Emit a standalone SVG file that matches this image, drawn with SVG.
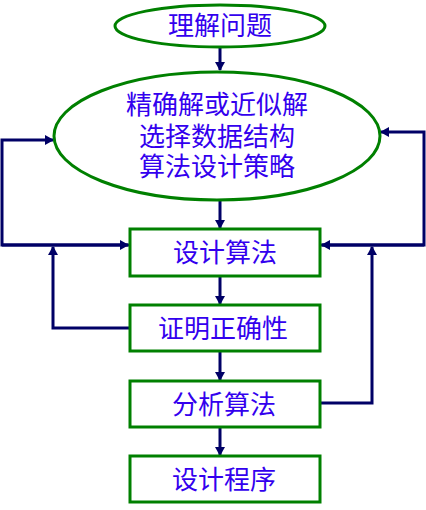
<svg xmlns="http://www.w3.org/2000/svg" width="426" height="510" viewBox="0 0 426 510">
<style>
.n{fill:#fff;stroke:#008000;stroke-width:3}
.t{font-family:"Noto Sans CJK SC",sans-serif;font-size:26px;fill:#3300ee;text-anchor:middle}
.c{fill:none;stroke:#000066;stroke-width:3}
</style>
<defs>
<marker id="a" markerWidth="10" markerHeight="10" refX="8" refY="5" orient="auto" markerUnits="userSpaceOnUse">
<path d="M0,0 L9,5 L0,10 Z" fill="#000066"/>
</marker>
</defs>
<rect width="426" height="510" fill="#fff"/>
<g id="connectors">
<path class="c" d="M220,48 V70" marker-end="url(#a)"/>
<path class="c" d="M220,201 V228" marker-end="url(#a)"/>
<path class="c" d="M220,277 V304" marker-end="url(#a)"/>
<path class="c" d="M220,352 V380" marker-end="url(#a)"/>
<path class="c" d="M220,428 V455" marker-end="url(#a)"/>
<path class="c" d="M130,245 H2 V140 H53" marker-end="url(#a)"/>
<path class="c" d="M2,245 H128" marker-end="url(#a)"/>
<path class="c" d="M130,328 H53 V247" marker-end="url(#a)"/>
<path class="c" d="M320,245 H424 V132 H381" marker-end="url(#a)"/>
<path class="c" d="M424,245 H322" marker-end="url(#a)"/>
<path class="c" d="M320,403 H372 V247" marker-end="url(#a)"/>
</g>
<g id="n1"><ellipse class="n" cx="220" cy="26" rx="105" ry="21"/><text class="t" x="220" y="35">理解问题</text></g>
<g id="n2"><ellipse class="n" cx="217" cy="136" rx="163" ry="64"/>
<text class="t" x="217" y="114">精确解或近似解</text>
<text class="t" x="217" y="146">选择数据结构</text>
<text class="t" x="217" y="176">算法设计策略</text></g>
<g id="n3"><rect class="n" x="130" y="229" width="190" height="47"/><text class="t" x="225" y="262">设计算法</text></g>
<g id="n4"><rect class="n" x="130" y="305" width="190" height="46"/><text class="t" x="223" y="338">证明正确性</text></g>
<g id="n5"><rect class="n" x="130" y="381" width="190" height="46"/><text class="t" x="224" y="414">分析算法</text></g>
<g id="n6"><rect class="n" x="130" y="456" width="190" height="46"/><text class="t" x="224" y="489">设计程序</text></g>
</svg>
